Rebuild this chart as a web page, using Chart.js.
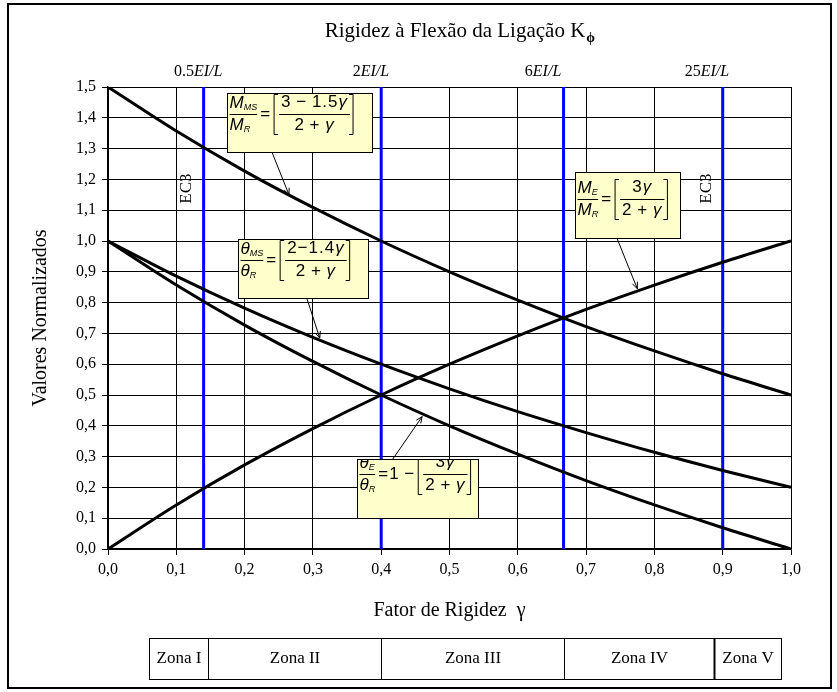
<!DOCTYPE html>
<html>
<head>
<meta charset="utf-8">
<script src="https://cdn.jsdelivr.net/npm/chart.js@4.4.0/dist/chart.umd.min.js"></script>
<style>
  html, body { margin: 0; padding: 0; background: #fff; }
  canvas { display: block; }
</style>
</head>
<body>
<canvas id="rigidezChart" width="837" height="692"></canvas>
<script>
// Fator de rigidez γ
const gamma = [0.0, 0.1, 0.2, 0.3, 0.4, 0.5, 0.6, 0.7, 0.8, 0.9, 1.0];

const momentoMS = [1.500, 1.357, 1.227, 1.109, 1.000, 0.900, 0.808, 0.722, 0.643, 0.569, 0.500];
const momentoE  = [0.000, 0.143, 0.273, 0.391, 0.500, 0.600, 0.692, 0.778, 0.857, 0.931, 1.000];
const rotacaoMS = [1.000, 0.886, 0.782, 0.687, 0.600, 0.520, 0.446, 0.378, 0.314, 0.255, 0.200];
const rotacaoE  = [1.000, 0.857, 0.727, 0.609, 0.500, 0.400, 0.308, 0.222, 0.143, 0.069, 0.000];

// Limites de rigidez da ligação (linhas azuis) e seus rótulos
const limitesGamma = [0.14, 0.4, 0.667, 0.9];
const limitesRotulo = ['0.5', '2', '6', '25'];

// Zonas de classificação
const zonas = ['Zona I', 'Zona II', 'Zona III', 'Zona IV', 'Zona V'];

// --- posições do desenho (fora dos dados) ---
const rotuloTopoX = [0.132, 0.385, 0.637, 0.877];
const zonaLimites = [0.06, 0.146, 0.399, 0.667, 0.887, 0.986];
const rotuloEC3 = [[0.115, 1.17], [0.877, 1.17]];

const serif = '"Liberation Serif", "Times New Roman", serif';
const sans = '"Liberation Sans", Arial, sans-serif';

const caixas = [
    { x0: 0.174, y0: 1.481, x1: 0.387, y1: 1.289, dy: 9,
      sup: ['M', 'MS'], inf: ['M', 'R'], pre: '', num: '3 − 1.5γ', den: '2 + γ',
      seta: [0.24, 1.289, 0.265, 1.15] },
    { x0: 0.190, y0: 1.006, x1: 0.380, y1: 0.815, dy: 9,
      sup: ['θ', 'MS'], inf: ['θ', 'R'], pre: '', num: '2−1.4γ', den: '2 + γ',
      seta: [0.291, 0.815, 0.31, 0.685] },
    { x0: 0.364, y0: 0.292, x1: 0.541, y1: 0.100, dy: 3,
      sup: ['θ', 'E'], inf: ['θ', 'R'], pre: '=1 −', num: '3γ', den: '2 + γ',
      seta: [0.417, 0.292, 0.46, 0.43] },
    { x0: 0.684, y0: 1.224, x1: 0.838, y1: 1.010, dy: 15,
      sup: ['M', 'E'], inf: ['M', 'R'], pre: '', num: '3γ', den: '2 + γ',
      seta: [0.745, 1.010, 0.775, 0.845] }
];

function fmt(v) {
    return v.toFixed(1).replace('.', ',');
}

function pontos(ys) {
    return gamma.map((g, i) => ({ x: g, y: ys[i] }));
}

function curva(label, ys) {
    return {
        label: label,
        data: pontos(ys),
        borderColor: '#000',
        borderWidth: 3,
        pointRadius: 0,
        cubicInterpolationMode: 'monotone',
        order: 1
    };
}

function limite(g) {
    return {
        label: 'limite',
        data: [{ x: g, y: 0 }, { x: g, y: 1.5 }],
        borderColor: '#0000ff',
        borderWidth: 3,
        pointRadius: 0,
        order: 2
    };
}

// texto com γ em itálico; devolve a largura
function rico(ctx, s, x, y, size, draw) {
    let w = 0;
    for (const ch of s) {
        ctx.font = (ch === 'γ' ? 'italic ' : '') + size + 'px ' + sans;
        if (draw) ctx.fillText(ch, x + w, y);
        w += ctx.measureText(ch).width + (ch === ' ' ? 0 : 1);
    }
    return w;
}

// símbolo com índice (M_MS, θ_R ...)
function simbolo(ctx, par, x, y, draw) {
    ctx.font = 'italic 17px ' + sans;
    const w = ctx.measureText(par[0]).width;
    if (draw) ctx.fillText(par[0], x, y);
    ctx.font = 'italic 9px ' + sans;
    if (draw) ctx.fillText(par[1], x + w, y + 4);
    return w + ctx.measureText(par[1]).width;
}

function colchete(ctx, x, y0, y1, dir) {
    ctx.beginPath();
    ctx.moveTo(x + 4 * dir, y0);
    ctx.lineTo(x, y0);
    ctx.lineTo(x, y1);
    ctx.lineTo(x + 4 * dir, y1);
    ctx.stroke();
}

function formula(ctx, c, bx, by) {
    const yn = by + c.dy;
    const yb = yn + 12;
    const yd = yb + 11;
    let x = bx + 2;

    const wl = Math.max(simbolo(ctx, c.sup, 0, 0, false), simbolo(ctx, c.inf, 0, 0, false));
    simbolo(ctx, c.sup, x, yn + 1, true);
    simbolo(ctx, c.inf, x, yd, true);
    ctx.lineWidth = 1;
    ctx.beginPath();
    ctx.moveTo(x, yb);
    ctx.lineTo(x + wl, yb);
    ctx.stroke();
    x += wl + 3;

    const ig = c.pre || '=';
    x += rico(ctx, ig, x, yb, 17, true) + 3;

    const fw = Math.max(rico(ctx, c.num, 0, 0, 17, false), rico(ctx, c.den, 0, 0, 17, false)) + 4;
    colchete(ctx, x, yn - 8, yd + 9, 1);
    x += 5;
    rico(ctx, c.num, x + (fw - rico(ctx, c.num, 0, 0, 17, false)) / 2, yn, 17, true);
    rico(ctx, c.den, x + (fw - rico(ctx, c.den, 0, 0, 17, false)) / 2, yd, 17, true);
    ctx.beginPath();
    ctx.moveTo(x, yb);
    ctx.lineTo(x + fw, yb);
    ctx.stroke();
    x += fw + 3;
    colchete(ctx, x, yn - 8, yd + 9, -1);
}

function seta(ctx, x0, y0, x1, y1) {
    const a = Math.atan2(y1 - y0, x1 - x0);
    ctx.lineWidth = 1;
    ctx.beginPath();
    ctx.moveTo(x0, y0);
    ctx.lineTo(x1, y1);
    ctx.moveTo(x1 - 7 * Math.cos(a - 0.4), y1 - 7 * Math.sin(a - 0.4));
    ctx.lineTo(x1, y1);
    ctx.lineTo(x1 - 7 * Math.cos(a + 0.4), y1 - 7 * Math.sin(a + 0.4));
    ctx.stroke();
}

const decoracao = {
    id: 'decoracao',
    beforeDraw(chart) {
        const ctx = chart.ctx;
        ctx.save();
        ctx.fillStyle = '#fff';
        ctx.fillRect(0, 0, chart.width, chart.height);
        ctx.restore();
    },
    afterDatasetsDraw(chart) {
        const ctx = chart.ctx;
        const xs = chart.scales.x, ys = chart.scales.y;
        ctx.save();
        ctx.fillStyle = '#000';
        ctx.strokeStyle = '#000';

        // rótulos EC3 verticais
        ctx.font = '17px ' + serif;
        ctx.textAlign = 'center';
        ctx.textBaseline = 'middle';
        rotuloEC3.forEach(([gx, gy]) => {
            ctx.save();
            ctx.translate(xs.getPixelForValue(gx), ys.getPixelForValue(gy));
            ctx.rotate(-Math.PI / 2);
            ctx.fillText('EC3', 0, 0);
            ctx.restore();
        });

        // caixas com as expressões
        ctx.textAlign = 'left';
        caixas.forEach(c => {
            const s = c.seta;
            seta(ctx, xs.getPixelForValue(s[0]), ys.getPixelForValue(s[1]),
                 xs.getPixelForValue(s[2]), ys.getPixelForValue(s[3]));
        });
        caixas.forEach(c => {
            const bx = Math.round(xs.getPixelForValue(c.x0)) + 0.5;
            const by = Math.round(ys.getPixelForValue(c.y0)) + 0.5;
            const bw = Math.round(xs.getPixelForValue(c.x1)) + 0.5 - bx;
            const bh = Math.round(ys.getPixelForValue(c.y1)) + 0.5 - by;
            ctx.fillStyle = '#ffffcc';
            ctx.fillRect(bx, by, bw, bh);
            ctx.lineWidth = 1;
            ctx.strokeRect(bx, by, bw, bh);
            ctx.save();
            ctx.beginPath();
            ctx.rect(bx, by, bw, bh);
            ctx.clip();
            ctx.fillStyle = '#000';
            formula(ctx, c, bx, by);
            ctx.restore();
        });
        ctx.restore();
    },
    afterDraw(chart) {
        const ctx = chart.ctx;
        const xs = chart.scales.x;
        ctx.save();
        ctx.fillStyle = '#000';
        ctx.strokeStyle = '#000';

        // título superior com índice ϕ
        ctx.textBaseline = 'alphabetic';
        ctx.textAlign = 'left';
        ctx.font = '21px ' + serif;
        const titulo = 'Rigidez à Flexão da Ligação K';
        const tw = ctx.measureText(titulo).width;
        const tx = 455 - tw / 2;
        ctx.fillText(titulo, tx, 37);
        ctx.font = 'bold 14px ' + serif;
        ctx.fillText('ϕ', tx + tw + 1, 42);

        // rótulos das linhas de limite
        ctx.textBaseline = 'middle';
        limitesRotulo.forEach((r, i) => {
            ctx.font = '16px ' + serif;
            const w1 = ctx.measureText(r).width;
            ctx.font = 'italic 16px ' + serif;
            const w2 = ctx.measureText('EI/L').width;
            const x0 = xs.getPixelForValue(rotuloTopoX[i]) - (w1 + w2) / 2;
            ctx.font = '16px ' + serif;
            ctx.fillText(r, x0, 72);
            ctx.font = 'italic 16px ' + serif;
            ctx.fillText('EI/L', x0 + w1, 72);
        });

        // tabela de zonas
        const top = 638.5, bot = 679.5;
        const px = zonaLimites.map(v => Math.round(xs.getPixelForValue(v)) + 0.5);
        ctx.lineWidth = 1;
        ctx.strokeRect(px[0], top, px[px.length - 1] - px[0], bot - top);
        for (let i = 1; i < px.length - 1; i++) {
            ctx.lineWidth = i === 4 ? 2 : 1;
            ctx.beginPath();
            ctx.moveTo(px[i], top);
            ctx.lineTo(px[i], bot);
            ctx.stroke();
        }
        ctx.font = '17px ' + serif;
        ctx.textAlign = 'center';
        zonas.forEach((z, i) => {
            ctx.fillText(z, (px[i] + px[i + 1]) / 2, (top + bot) / 2);
        });

        // moldura
        ctx.lineWidth = 2;
        ctx.strokeRect(8, 4, 823, 684);
        ctx.restore();
    }
};

new Chart(document.getElementById('rigidezChart'), {
    type: 'line',
    data: {
        datasets: [
            curva('MMS/MR', momentoMS),
            curva('ME/MR', momentoE),
            curva('θMS/θR', rotacaoMS),
            curva('θE/θR', rotacaoE),
            ...limitesGamma.map(limite)
        ]
    },
    options: {
        responsive: false,
        animation: false,
        layout: { padding: { left: 8, right: 46, top: 87, bottom: 68 } },
        plugins: {
            legend: { display: false },
            tooltip: { enabled: false }
        },
        scales: {
            x: {
                type: 'linear',
                min: 0,
                max: 1,
                afterFit(s) { s.height = 75; },
                ticks: {
                    stepSize: 0.1,
                    color: '#000',
                    padding: 5,
                    maxRotation: 0,
                    font: { family: serif, size: 16 },
                    callback: v => fmt(v)
                },
                grid: { color: '#000', lineWidth: 1, tickLength: 6, tickColor: '#000' },
                border: { color: '#000', width: 1.5 },
                title: {
                    display: true,
                    text: 'Fator de Rigidez  γ',
                    color: '#000',
                    font: { family: serif, size: 20 },
                    padding: { top: 0, bottom: 1 }
                }
            },
            y: {
                min: 0,
                max: 1.5,
                afterFit(s) { s.width = 100; },
                ticks: {
                    stepSize: 0.1,
                    color: '#000',
                    padding: 6,
                    font: { family: serif, size: 16 },
                    callback: v => fmt(v)
                },
                grid: { color: '#000', lineWidth: 1, tickLength: 6, tickColor: '#000' },
                border: { color: '#000', width: 1.5 },
                title: {
                    display: true,
                    text: 'Valores Normalizados',
                    color: '#000',
                    font: { family: serif, size: 20 },
                    padding: { top: 21, bottom: 0 }
                }
            }
        }
    },
    plugins: [decoracao]
});
</script>
</body>
</html>
